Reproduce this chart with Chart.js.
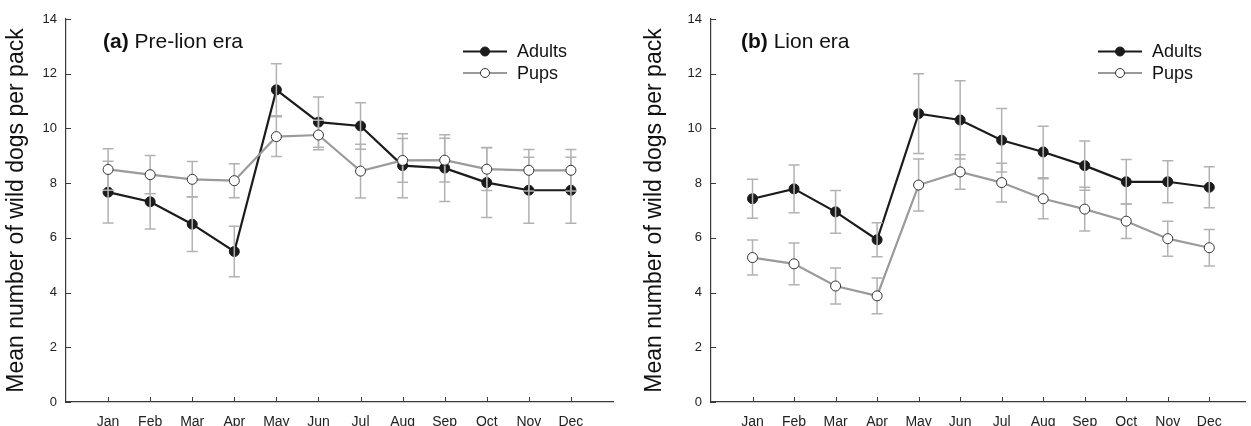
<!DOCTYPE html>
<html>
<head>
<meta charset="utf-8">
<script src="https://cdn.jsdelivr.net/npm/chart.js@4"></script>
<style>
    body { margin: 0; background: #fff; }
    .panel { position: absolute; top: 0; height: 426px; }
    #wrapA { left: 0; width: 625px; }
    #wrapB { left: 625px; width: 626px; }
</style>
</head>
<body>
<div class="panel" id="wrapA"><canvas id="chartA" width="625" height="426"></canvas></div>
<div class="panel" id="wrapB"><canvas id="chartB" width="626" height="426"></canvas></div>
<script>
const months = ['Jan', 'Feb', 'Mar', 'Apr', 'May', 'Jun', 'Jul', 'Aug', 'Sep', 'Oct', 'Nov', 'Dec'];
const yTicks = [0, 2, 4, 6, 8, 10, 12, 14];

// (a) pre-lion era
const adultsA = [7.67, 7.32, 6.50, 5.50, 11.41, 10.23, 10.09, 8.64, 8.55, 8.02, 7.74, 7.74];
const adultsAErr = [1.13, 1.00, 1.00, 0.92, 0.95, 0.92, 0.85, 1.17, 1.22, 1.28, 1.21, 1.21];
const pupsA = [8.50, 8.31, 8.14, 8.09, 9.70, 9.76, 8.44, 8.83, 8.84, 8.51, 8.47, 8.47];
const pupsAErr = [0.76, 0.70, 0.65, 0.62, 0.73, 0.54, 0.98, 0.80, 0.80, 0.78, 0.76, 0.76];

// (b) lion era
const adultsB = [7.43, 7.79, 6.95, 5.93, 10.54, 10.31, 9.57, 9.14, 8.64, 8.05, 8.05, 7.85];
const adultsBErr = [0.71, 0.87, 0.78, 0.62, 1.46, 1.43, 1.16, 0.94, 0.90, 0.81, 0.77, 0.75];
const pupsB = [5.28, 5.05, 4.24, 3.88, 7.93, 8.41, 8.02, 7.43, 7.05, 6.61, 5.97, 5.64];
const pupsBErr = [0.64, 0.76, 0.66, 0.65, 0.95, 0.63, 0.71, 0.73, 0.80, 0.63, 0.64, 0.67];

const FONT = "'Liberation Sans', Arial, sans-serif";
const AXIS = '#3a3a3a';
const DARK = '#1b1b1b';
const GREY = '#9a9a9a';
const ERR = '#b2b2b2';

// error bars, drawn right after the adults dataset so the pups markers sit on top
const errorBars = {
    id: 'errorBars',
    afterDatasetDraw(chart, args) {
        if (args.index !== 0) return;
        const { ctx, scales: { x, y } } = chart;
        ctx.save();
        ctx.strokeStyle = ERR;
        ctx.lineWidth = 1.5;
        chart.data.datasets.forEach(ds => {
            ds.data.forEach((p, i) => {
                const px = x.getPixelForValue(p.x);
                const top = y.getPixelForValue(p.y + ds.err[i]);
                const bot = y.getPixelForValue(p.y - ds.err[i]);
                ctx.beginPath();
                ctx.moveTo(px, top); ctx.lineTo(px, bot);
                ctx.moveTo(px - 5.5, top); ctx.lineTo(px + 5.5, top);
                ctx.moveTo(px - 5.5, bot); ctx.lineTo(px + 5.5, bot);
                ctx.stroke();
            });
        });
        ctx.restore();
    }
};

// inward tick marks, panel title and the line+marker legend
const decorations = {
    id: 'decorations',
    afterDraw(chart, args, opts) {
        const { ctx, chartArea: a, scales: { x, y } } = chart;
        ctx.save();
        ctx.strokeStyle = AXIS;
        ctx.lineWidth = 1;
        ctx.beginPath();
        yTicks.forEach(t => {
            const py = Math.round(y.getPixelForValue(t)) + 0.5;
            ctx.moveTo(a.left, py); ctx.lineTo(a.left + 5, py);
        });
        months.forEach((m, i) => {
            const px = Math.round(x.getPixelForValue(i)) + 0.5;
            ctx.moveTo(px, a.bottom); ctx.lineTo(px, a.bottom - 5);
        });
        ctx.stroke();

        ctx.fillStyle = '#111';
        ctx.textBaseline = 'alphabetic';
        ctx.textAlign = 'left';
        ctx.font = `bold 21px ${FONT}`;
        ctx.fillText(opts.tag, opts.titleX, 48);
        const w = ctx.measureText(opts.tag + ' ').width;
        ctx.font = `21px ${FONT}`;
        ctx.fillText(opts.title, opts.titleX + w, 48);

        const items = [
            { label: 'Adults', color: DARK, fill: DARK, y: 51.5 },
            { label: 'Pups', color: GREY, fill: '#fff', y: 73 }
        ];
        items.forEach(it => {
            ctx.strokeStyle = it.color;
            ctx.lineWidth = 2.2;
            ctx.beginPath();
            ctx.moveTo(opts.legendX, it.y); ctx.lineTo(opts.legendX + 44, it.y);
            ctx.stroke();
            ctx.beginPath();
            ctx.arc(opts.legendX + 22, it.y, 4.5, 0, Math.PI * 2);
            ctx.fillStyle = it.fill;
            ctx.fill();
            ctx.strokeStyle = it.fill === '#fff' ? '#333' : DARK;
            ctx.lineWidth = 1;
            ctx.stroke();
            ctx.fillStyle = '#111';
            ctx.font = `18px ${FONT}`;
            ctx.textBaseline = 'middle';
            ctx.fillText(it.label, opts.legendX + 54, it.y + 1);
        });
        ctx.restore();
    }
};

function makeChart(canvasId, adults, adultsErr, pups, pupsErr, cfg) {
    const toPoints = arr => arr.map((v, i) => ({ x: i, y: v }));
    return new Chart(document.getElementById(canvasId), {
        type: 'line',
        data: {
            datasets: [
                {
                    label: 'Adults', data: toPoints(adults), err: adultsErr, order: 1,
                    borderColor: DARK, borderWidth: 2.2, backgroundColor: DARK,
                    pointRadius: 5, pointBackgroundColor: DARK, pointBorderColor: DARK, pointBorderWidth: 1,
                    tension: 0
                },
                {
                    label: 'Pups', data: toPoints(pups), err: pupsErr, order: 0,
                    borderColor: GREY, borderWidth: 2.2, backgroundColor: '#fff',
                    pointRadius: 5, pointBackgroundColor: '#fff', pointBorderColor: '#333', pointBorderWidth: 1,
                    tension: 0
                }
            ]
        },
        options: {
            responsive: false,
            animation: false,
            layout: { padding: { top: 19, right: cfg.padRight, bottom: 0, left: 0 } },
            plugins: {
                legend: { display: false },
                tooltip: { enabled: false },
                decorations: cfg.deco
            },
            scales: {
                x: {
                    type: 'linear', min: -1, max: cfg.xMax,
                    afterBuildTicks: s => { s.ticks = months.map((m, i) => ({ value: i })); },
                    afterFit: s => { s.height = 24; },
                    ticks: {
                        autoSkip: false, maxRotation: 0, padding: 12,
                        color: '#222', font: { family: FONT, size: 14 },
                        callback: v => months[v] ?? ''
                    },
                    grid: { display: false, drawTicks: false },
                    border: { display: true, color: AXIS, width: 1.2 }
                },
                y: {
                    min: 0, max: 14,
                    afterBuildTicks: s => { s.ticks = yTicks.map(v => ({ value: v })); },
                    afterFit: s => { s.width = cfg.yWidth; },
                    ticks: { padding: 9, color: '#222', font: { family: FONT, size: 13 } },
                    grid: { display: false, drawTicks: false },
                    border: { display: true, color: AXIS, width: 1.2 },
                    title: {
                        display: true, text: 'Mean number of wild dogs per pack',
                        color: '#111', font: { family: FONT, size: 23 },
                        padding: { top: cfg.titlePad, bottom: 0 }
                    }
                }
            }
        },
        plugins: [errorBars, decorations]
    });
}

makeChart('chartA', adultsA, adultsAErr, pupsA, pupsAErr, {
    padRight: 12, xMax: 12, yWidth: 66, titlePad: 3,
    deco: { tag: '(a)', title: 'Pre-lion era', titleX: 103, legendX: 463 }
});
makeChart('chartB', adultsB, adultsBErr, pupsB, pupsBErr, {
    padRight: 0, xMax: 11.86, yWidth: 86, titlePad: 16,
    deco: { tag: '(b)', title: 'Lion era', titleX: 116, legendX: 473 }
});
</script>
</body>
</html>
